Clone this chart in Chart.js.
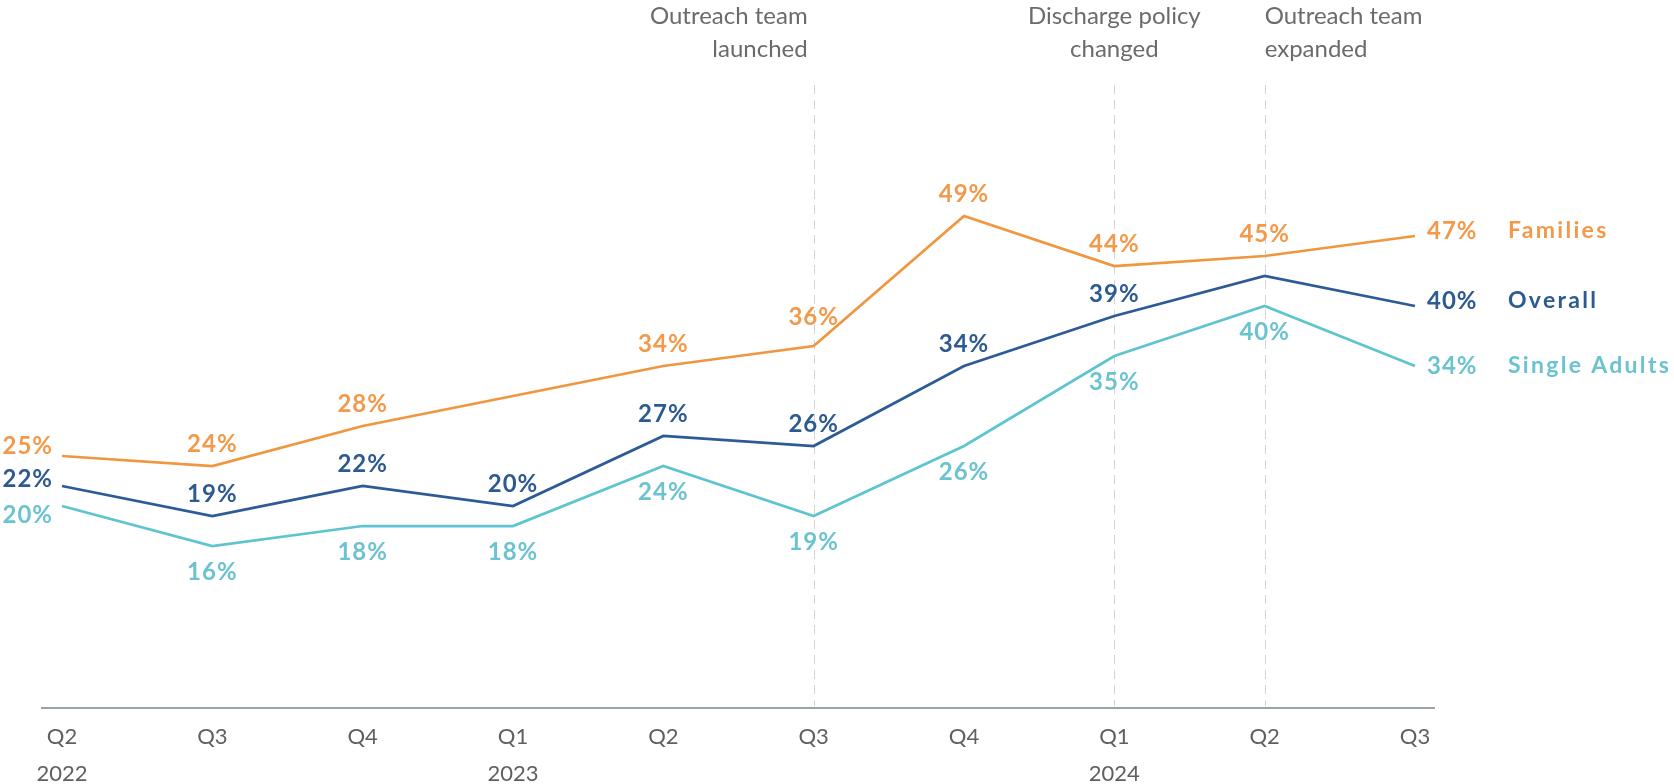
<!DOCTYPE html>
<html>
<head>
<meta charset="utf-8">
<script src="https://cdn.jsdelivr.net/npm/chart.js@4.4.1/dist/chart.umd.min.js"></script>
<style>
  html, body { margin: 0; padding: 0; background: #fff; }
</style>
</head>
<body>
<canvas id="chart" width="1674" height="784"></canvas>
<script>
// Quarterly share (%) by household type
const quarters = [['Q2', '2022'], 'Q3', 'Q4', ['Q1', '2023'], 'Q2', 'Q3', 'Q4', ['Q1', '2024'], 'Q2', 'Q3'];
const families = [25, 24, 28, 31, 34, 36, 49, 44, 45, 47];
const overall = [22, 19, 22, 20, 27, 26, 34, 39, 43, 40];
const singleAdults = [20, 16, 18, 18, 24, 19, 26, 35, 40, 34];

// Program milestones, by quarter index
const eventIndex = [5, 7, 8];
const eventText = [['Outreach team', 'launched'], ['Discharge policy', 'changed'], ['Outreach team', 'expanded']];

Chart.defaults.font.family = 'Lato';

// where each value label goes: l = left, r = right, a = above, A = higher above, b = below
const labelPos = {
  Families: ['l', 'a', 'a', null, 'a', 'A', 'a', 'a', 'a', 'r'],
  Overall: ['l', 'a', 'a', 'a', 'a', 'a', 'a', 'a', null, 'r'],
  'Single Adults': ['l', 'b', 'b', 'b', 'b', 'b', 'b', 'b', 'b', 'r']
};
// vertical nudge for the first / last labels so they don't crowd
const edgeDy = { Families: [-10, -5], Overall: [-7, -5], 'Single Adults': [9, 0] };

const pointLabels = {
  id: 'pointLabels',
  afterDatasetsDraw(chart) {
    const ctx = chart.ctx;
    ctx.save();
    ctx.font = 'bold 24px Lato';
    ctx.textBaseline = 'middle';
    chart.data.datasets.forEach((ds, di) => {
      const meta = chart.getDatasetMeta(di);
      const pos = labelPos[ds.label];
      const dy = edgeDy[ds.label];
      ctx.fillStyle = ds.labelColor;
      ctx.letterSpacing = '1px';
      ds.data.forEach((v, i) => {
        if (!pos[i]) return;
        let x = meta.data[i].x, y = meta.data[i].y;
        if (pos[i] === 'a') { ctx.textAlign = 'center'; y -= 22; }
        else if (pos[i] === 'A') { ctx.textAlign = 'center'; y -= 29; }
        else if (pos[i] === 'b') { ctx.textAlign = 'center'; y += 26; }
        else if (pos[i] === 'l') { ctx.textAlign = 'right'; x -= 9; y += dy[0]; }
        else { ctx.textAlign = 'left'; x += 12; y += dy[1]; }
        ctx.fillText(v + '%', x, y);
      });
      // series name to the right of the last value
      const last = meta.data[meta.data.length - 1];
      ctx.font = 'bold 23px Lato';
      ctx.textAlign = 'left';
      ctx.letterSpacing = '2.3px';
      ctx.fillText(ds.label, last.x + 93, last.y + dy[1]);
      ctx.font = 'bold 24px Lato';
    });
    ctx.restore();
  }
};

const milestones = {
  id: 'milestones',
  beforeDatasetsDraw(chart) {
    const { ctx, chartArea, scales: { x } } = chart;
    ctx.save();
    ctx.strokeStyle = '#d4d4d4';
    ctx.lineWidth = 1;
    ctx.setLineDash([9, 6]);
    eventIndex.forEach(i => {
      const px = Math.round(x.getPixelForValue(i)) + 0.5;
      ctx.beginPath();
      ctx.moveTo(px, 85);
      ctx.lineTo(px, chartArea.bottom);
      ctx.stroke();
    });
    ctx.setLineDash([]);

    // baseline runs a little past the first and last quarter
    ctx.strokeStyle = '#9aa3a8';
    ctx.lineWidth = 2;
    ctx.beginPath();
    ctx.moveTo(chartArea.left - 21, chartArea.bottom + 2);
    ctx.lineTo(chartArea.right + 20, chartArea.bottom + 2);
    ctx.stroke();

    ctx.fillStyle = '#6b6b6b';
    ctx.font = '24px Lato';
    ctx.textBaseline = 'alphabetic';
    const aligns = ['right', 'center', 'left'];
    const shift = [-6, 0, 0];
    eventIndex.forEach((i, k) => {
      const px = x.getPixelForValue(i) + shift[k];
      ctx.textAlign = aligns[k];
      eventText[k].forEach((line, j) => ctx.fillText(line, px, 24 + j * 33));
    });
    ctx.restore();
  }
};

new Chart(document.getElementById('chart'), {
  type: 'line',
  data: {
    labels: quarters,
    datasets: [
      { label: 'Families', data: families, borderColor: '#f0963f', labelColor: '#f29a4a' },
      { label: 'Overall', data: overall, borderColor: '#2c5b96', labelColor: '#2e5a92' },
      { label: 'Single Adults', data: singleAdults, borderColor: '#5ec4d0', labelColor: '#6cc3d0' }
    ]
  },
  options: {
    responsive: false,
    animation: false,
    elements: {
      line: { borderWidth: 2.75, tension: 0 },
      point: { radius: 0, hoverRadius: 0 }
    },
    layout: { padding: { left: 62, right: 259, top: 6, bottom: 0 } },
    plugins: { legend: { display: false }, tooltip: { enabled: false } },
    scales: {
      x: {
        offset: false,
        grid: { display: false, drawTicks: false },
        border: { display: false },
        ticks: {
          color: '#5f5f5f',
          padding: 12,
          maxRotation: 0,
          autoSkip: false,
          font: { size: 22, lineHeight: 1.68 }
        },
        afterFit: (scale) => { scale.height = 78; }
      },
      y: { display: false, min: 0, max: 70 }
    }
  },
  plugins: [milestones, pointLabels]
});
</script>
</body>
</html>
